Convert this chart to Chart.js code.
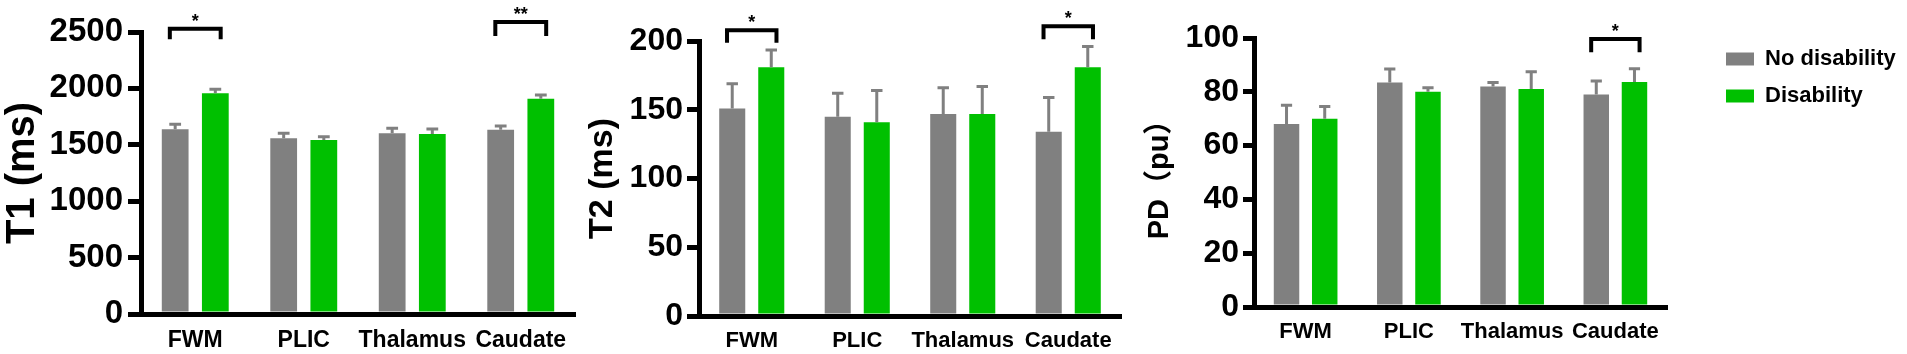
<!DOCTYPE html>
<html>
<head>
<meta charset="utf-8">
<script src="https://cdn.jsdelivr.net/npm/chart.js@4.4.1/dist/chart.umd.min.js"></script>
<style>
  html, body { margin: 0; padding: 0; background: #fff; }
  #wrap { position: relative; width: 1907px; height: 354px; overflow: hidden; }
  canvas { position: absolute; top: 0; }
</style>
</head>
<body>
<div id="wrap">
  <canvas id="t1" width="590" height="354" style="left:0px"></canvas>
  <canvas id="t2" width="580" height="354" style="left:560px"></canvas>
  <canvas id="pd" width="787" height="354" style="left:1120px"></canvas>
</div>
<script>
// categories / series
const categories = ['FWM', 'PLIC', 'Thalamus', 'Caudate'];
const seriesNames = ['No disability', 'Disability'];

// T1 (ms)
const t1NoDis = [1637, 1557, 1602, 1634];
const t1NoDisErr = [46, 45, 44, 33];
const t1Dis = [1957, 1543, 1596, 1909];
const t1DisErr = [35, 29, 44, 32];
const t1Axis = [0, 2500, 500];           // min, max, step
const t1SigCat = [0, 3];
const t1SigMark = ['*', '**'];
const t1SigTop = [2529, 2589];
const t1SigLeg = [2435, 2465];

// T2 (ms)
const t2NoDis = [151, 145, 147, 134];
const t2NoDisErr = [18, 17, 19, 25];
const t2Dis = [181, 141, 147, 181];
const t2DisErr = [12.5, 23, 20, 15];
const t2Axis = [0, 200, 50];
const t2SigCat = [0, 3];
const t2SigMark = ['*', '*'];
const t2SigTop = [207.8, 210.8];
const t2SigLeg = [198.8, 201.2];

// PD (pu)
const pdNoDis = [68, 83.5, 82, 79];
const pdNoDisErr = [7, 5, 1.5, 5];
const pdDis = [70, 80, 81, 83.6];
const pdDisErr = [4.5, 1.5, 6.5, 5];
const pdAxis = [0, 100, 20];
const pdSigCat = [3];
const pdSigMark = ['*'];
const pdSigTop = [99.6];
const pdSigLeg = [94.7];

const GRAY = '#808080';
const GREEN = '#00c000';
const FONT = '"Liberation Sans", Arial, "Noto Sans CJK SC", sans-serif';

Chart.defaults.font.family = FONT;
Chart.defaults.color = '#000';
Chart.defaults.animation = false;

// upward error bars, drawn from the y scale
const errorBars = {
  id: 'errorBars',
  afterDatasetsDraw(chart) {
    const ctx = chart.ctx, y = chart.scales.y;
    ctx.save();
    ctx.strokeStyle = GRAY;
    ctx.lineWidth = 3;
    chart.data.datasets.forEach((ds, i) => {
      chart.getDatasetMeta(i).data.forEach((bar, j) => {
        const top = y.getPixelForValue(ds.data[j] + ds.errors[j]);
        const half = bar.width * 0.22;
        ctx.beginPath();
        ctx.moveTo(bar.x, bar.y);
        ctx.lineTo(bar.x, top);
        ctx.moveTo(bar.x - half, top);
        ctx.lineTo(bar.x + half, top);
        ctx.stroke();
      });
    });
    ctx.restore();
  }
};

// significance brackets
function brackets(cats, marks, tops, legs) {
  return {
    id: 'brackets',
    afterDraw(chart) {
      const ctx = chart.ctx, y = chart.scales.y;
      const a = chart.getDatasetMeta(0).data, b = chart.getDatasetMeta(1).data;
      ctx.save();
      ctx.strokeStyle = '#000';
      ctx.fillStyle = '#000';
      ctx.lineWidth = 4;
      ctx.lineJoin = 'miter';
      ctx.font = 'bold 18px ' + FONT;
      ctx.textAlign = 'center';
      ctx.textBaseline = 'middle';
      cats.forEach((c, k) => {
        const x1 = a[c].x - a[c].width * 0.2;
        const x2 = b[c].x + b[c].width * 0.2;
        const yt = y.getPixelForValue(tops[k]);
        const yl = y.getPixelForValue(legs[k]);
        ctx.beginPath();
        ctx.moveTo(x1, yl);
        ctx.lineTo(x1, yt);
        ctx.lineTo(x2, yt);
        ctx.lineTo(x2, yl);
        ctx.stroke();
        ctx.fillText(marks[k], (x1 + x2) / 2, yt - 7);
      });
      ctx.restore();
    }
  };
}

function makePanel(id, p) {
  const plugins = [errorBars, brackets(p.sigCat, p.sigMark, p.sigTop, p.sigLeg)];
  if (p.legend) {
    plugins.push({
      id: 'legendPlace',
      afterLayout(chart) {
        const lg = chart.legend;
        lg.left = p.legend[0];
        lg.top = p.legend[1];
        lg.right = chart.width;
        lg.bottom = chart.height;
      }
    });
  }
  return new Chart(document.getElementById(id), {
    type: 'bar',
    data: {
      labels: categories,
      datasets: [
        { label: seriesNames[0], data: p.no, errors: p.noErr, backgroundColor: GRAY,
          borderWidth: 0, categoryPercentage: 0.74, barPercentage: 0.667 },
        { label: seriesNames[1], data: p.dis, errors: p.disErr, backgroundColor: GREEN,
          borderWidth: 0, categoryPercentage: 0.74, barPercentage: 0.667 }
      ]
    },
    options: {
      responsive: false,
      devicePixelRatio: 1,
      animation: false,
      layout: { padding: { top: p.top, right: p.right, bottom: 0, left: 0 } },
      plugins: {
        tooltip: { enabled: false },
        legend: {
          display: !!p.legend,
          position: 'right',
          align: 'start',
          maxWidth: 150,
          labels: {
            boxWidth: 28, boxHeight: 13, padding: 15, color: '#000',
            font: { size: 22, weight: 'bold' }
          }
        }
      },
      scales: {
        x: {
          grid: { display: false, drawTicks: false },
          border: { display: true, color: '#000', width: 5, z: 1 },
          ticks: { color: '#000', padding: p.xPad, maxRotation: 0, autoSkip: false,
                   font: { size: p.xFont, weight: 'bold' } },
          afterFit: (s) => { s.height = p.xHeight; }
        },
        y: {
          min: p.axis[0],
          max: p.axis[1],
          ticks: { stepSize: p.axis[2], color: '#000', padding: p.yPad,
                   font: { size: p.yFont, weight: 'bold' },
                   callback: (v) => String(v) },
          grid: { drawOnChartArea: false, drawTicks: true, tickLength: p.tickLen,
                  tickWidth: 5, tickColor: '#000', color: '#000', lineWidth: 5 },
          border: { display: true, color: '#000', width: 5 },
          title: { display: true, text: p.title, color: '#000',
                   font: { size: p.titleFont, weight: 'bold', lineHeight: 1 },
                   padding: { top: p.titlePad, bottom: 0 } },
          afterFit: (s) => { s.width = p.yWidth; }
        }
      }
    },
    plugins: plugins
  });
}

makePanel('t1', {
  no: t1NoDis, noErr: t1NoDisErr, dis: t1Dis, disErr: t1DisErr, axis: t1Axis,
  sigCat: t1SigCat, sigMark: t1SigMark, sigTop: t1SigTop, sigLeg: t1SigLeg,
  title: 'T1 (ms)', titleFont: 40, titlePad: 3,
  top: 32, right: 15, yWidth: 141, xHeight: 40,
  yFont: 33, yPad: 5, tickLen: 13, xFont: 23, xPad: 13
});

makePanel('t2', {
  no: t2NoDis, noErr: t2NoDisErr, dis: t2Dis, disErr: t2DisErr, axis: t2Axis,
  sigCat: t2SigCat, sigMark: t2SigMark, sigTop: t2SigTop, sigLeg: t2SigLeg,
  title: 'T2 (ms)', titleFont: 34, titlePad: 26,
  top: 41, right: 19, yWidth: 139, xHeight: 38,
  yFont: 32, yPad: 4, tickLen: 12, xFont: 22, xPad: 12
});

makePanel('pd', {
  no: pdNoDis, noErr: pdNoDisErr, dis: pdDis, disErr: pdDisErr, axis: pdAxis,
  sigCat: pdSigCat, sigMark: pdSigMark, sigTop: pdSigTop, sigLeg: pdSigLeg,
  title: 'PD（pu）', titleFont: 29, titlePad: 25,
  top: 38, right: 90, yWidth: 134, xHeight: 47,
  yFont: 32, yPad: 4, tickLen: 11, xFont: 22, xPad: 12,
  legend: [591, 33]
});
</script>
</body>
</html>
